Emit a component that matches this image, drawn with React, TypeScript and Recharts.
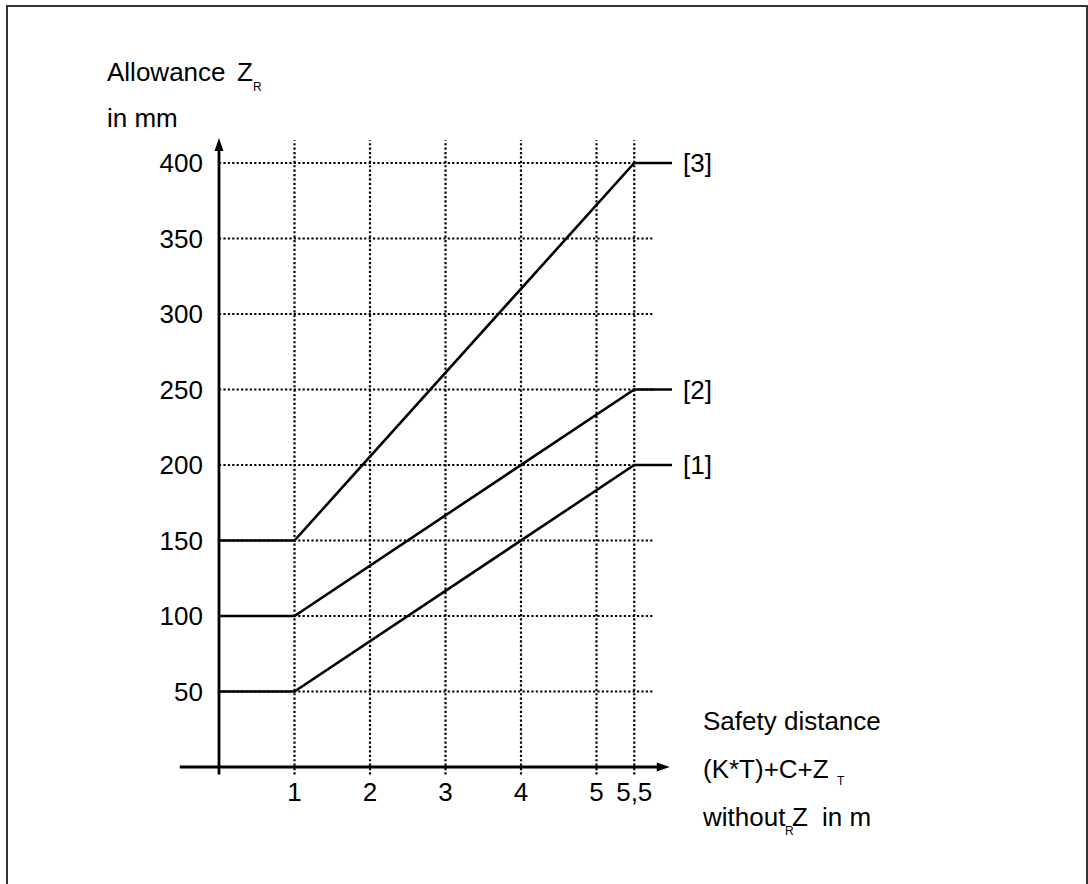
import { LineChart, Line, XAxis, YAxis, ReferenceLine, ReferenceDot, LabelList } from "recharts";

// distance breakpoints (m) and allowance curves (mm)
const xPoints = [0, 1, 5.5, 6];
const curve1 = [50, 50, 200, 200];
const curve2 = [100, 100, 250, 250];
const curve3 = [150, 150, 400, 400];
const curveNames = ["[1]", "[2]", "[3]"];

const xTicks = [1, 2, 3, 4, 5, 5.5];
const yTicks = [50, 100, 150, 200, 250, 300, 350, 400];

const data = xPoints.map((x, i) => ({ x, c1: curve1[i], c2: curve2[i], c3: curve3[i] }));

const FONT = "'Liberation Sans', Arial, sans-serif";
const FS = 26;
const DOTS = "2.2 2.2";

function YTick(props: any) {
  const { x, y, payload } = props;
  return (
    <text x={x - 16} y={y + 9} textAnchor="end" fontSize={FS} fontFamily={FONT} fill="#000">
      {payload.value}
    </text>
  );
}

function XTick(props: any) {
  const { x, y, payload } = props;
  return (
    <text x={x} y={y + 34} textAnchor="middle" fontSize={FS} fontFamily={FONT} fill="#000">
      {String(payload.value).replace(".", ",")}
    </text>
  );
}

function endLabel(name: string) {
  return (props: any) => {
    if (props.index !== xPoints.length - 1) return null;
    return (
      <text x={props.x + 11} y={props.y + 9} fontSize={FS} fontFamily={FONT} fill="#000">
        {name}
      </text>
    );
  };
}

function YTitle() {
  return (
    <g fontFamily={FONT} fill="#000">
      <text x={107} y={81} fontSize={FS}>Allowance</text>
      <text x={237} y={81} fontSize={FS}>Z</text>
      <text x={253} y={91} fontSize={12}>R</text>
      <text x={107} y={127} fontSize={FS}>in mm</text>
    </g>
  );
}

function XTitle() {
  return (
    <g fontFamily={FONT} fill="#000">
      <text x={703} y={730} fontSize={FS}>Safety distance</text>
      <text x={703} y={778} fontSize={FS}>(K*T)+C+Z</text>
      <text x={837} y={785} fontSize={12}>T</text>
      <text x={703} y={826} fontSize={FS}>without</text>
      <text x={785} y={835} fontSize={12}>R</text>
      <text x={792} y={826} fontSize={FS}>Z</text>
      <text x={822} y={826} fontSize={FS}>in m</text>
    </g>
  );
}

const upArrow = (p: any) => (
  <polygon points={`${p.cx},${p.cy} ${p.cx - 4.5},${p.cy + 13} ${p.cx + 4.5},${p.cy + 13}`} fill="#000" />
);
const rightArrow = (p: any) => (
  <polygon points={`${p.cx},${p.cy} ${p.cx - 13},${p.cy - 4.5} ${p.cx - 13},${p.cy + 4.5}`} fill="#000" />
);

export default function App() {
  const series = [
    { key: "c1", name: curveNames[0] },
    { key: "c2", name: curveNames[1] },
    { key: "c3", name: curveNames[2] },
  ];
  return (
    <div style={{ position: "absolute", left: 0, top: 0, width: 1088, height: 884, overflow: "hidden", background: "#fff" }}>
      <div
        style={{
          position: "absolute", left: 6, top: 5, width: 1082, height: 900,
          border: "2px solid #333", boxSizing: "border-box",
        }}
      />
      <div style={{ position: "absolute", left: 0, top: 0 }}>
        <LineChart width={1088} height={884} data={data} margin={{ top: 163, right: 416, bottom: 57, left: 159 }}>
          <XAxis
            dataKey="x" type="number" domain={[0, 6]} ticks={xTicks} interval={0}
            axisLine={false} tickLine={false} tickSize={0} tickMargin={0} height={60}
            tick={<XTick />} label={<XTitle />}
          />
          <YAxis
            type="number" domain={[0, 400]} ticks={yTicks} interval={0}
            axisLine={false} tickLine={false} tickSize={0} tickMargin={0} width={60}
            tick={<YTick />} label={<YTitle />}
          />
          {yTicks.map((v) => (
            <ReferenceLine key={"h" + v} segment={[{ x: 0, y: v }, { x: 5.75, y: v }]}
              stroke="#000" strokeWidth={2.2} strokeDasharray={DOTS} ifOverflow="visible" />
          ))}
          {xTicks.map((v) => (
            <ReferenceLine key={"v" + v} segment={[{ x: v, y: -5 }, { x: v, y: 415 }]}
              stroke="#000" strokeWidth={2.2} strokeDasharray={DOTS} ifOverflow="visible" />
          ))}
          <ReferenceLine segment={[{ x: 0, y: -5 }, { x: 0, y: 409 }]} stroke="#000" strokeWidth={2.8} ifOverflow="visible" />
          <ReferenceLine segment={[{ x: -0.52, y: 0 }, { x: 5.85, y: 0 }]} stroke="#000" strokeWidth={2.8} ifOverflow="visible" />
          <ReferenceDot x={0} y={416.5} r={1} shape={upArrow} ifOverflow="visible" />
          <ReferenceDot x={5.97} y={0} r={1} shape={rightArrow} ifOverflow="visible" />
          {series.map((s) => (
            <Line key={s.key} dataKey={s.key} type="linear" stroke="#000" strokeWidth={2.6}
              dot={false} activeDot={false} isAnimationActive={false}>
              <LabelList dataKey={s.key} content={endLabel(s.name)} />
            </Line>
          ))}
        </LineChart>
      </div>
    </div>
  );
}
